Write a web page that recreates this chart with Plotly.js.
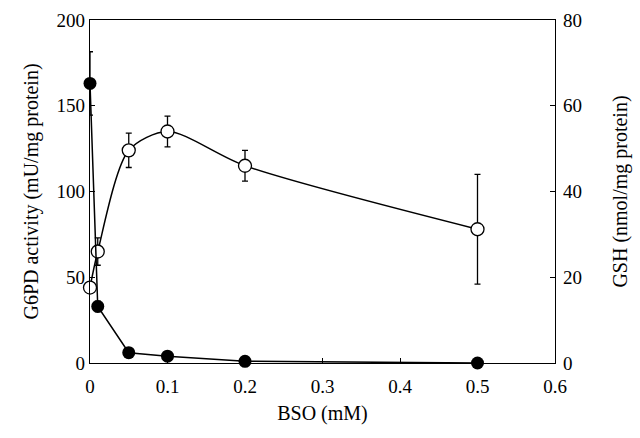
<!DOCTYPE html>
<html>
<head>
<meta charset="utf-8">
<script src="https://cdn.plot.ly/plotly-3.0.1.min.js"></script>
<style>
  body { margin: 0; background: #fff; }
  #graph { width: 640px; height: 438px; }
</style>
</head>
<body>
<div id="graph"></div>
<script>
// BSO concentrations (mM)
var bso = [0, 0.01, 0.05, 0.1, 0.2, 0.5];

// G6PD activity (mU/mg protein), open circles, left axis
var g6pd = [44, 65, 124, 135, 115, 78];
var g6pdErr = [3, 8, 10, 9, 9, 32];

// GSH (nmol/mg protein), filled circles, right axis
var gsh = [65.2, 13.2, 2.4, 1.6, 0.4, 0];
var gshErr = [7.4, 1.2, 0.8, 0.8, 0.3, 0.2];

var serif = 'Liberation Serif, Times New Roman, serif';

var data = [
    {
        x: bso, y: gsh, yaxis: 'y2', name: 'GSH',
        mode: 'lines+markers', cliponaxis: false,
        line: { color: '#000', width: 1.5 },
        marker: { symbol: 'circle', size: 13, color: '#000' },
        error_y: { type: 'data', array: gshErr, color: '#000', thickness: 1.3, width: 3 }
    },
    {
        x: bso, y: g6pd, name: 'G6PD',
        mode: 'lines+markers', cliponaxis: false,
        line: { color: '#000', width: 1.5, shape: 'spline', smoothing: 0.8 },
        marker: { symbol: 'circle', size: 13, color: '#fff', line: { color: '#000', width: 1.3 } },
        error_y: { type: 'data', array: g6pdErr, color: '#000', thickness: 1.3, width: 3 }
    }
];

var layout = {
    width: 640, height: 438,
    margin: { l: 90, r: 85, t: 20, b: 75 },
    paper_bgcolor: '#fff', plot_bgcolor: '#fff',
    showlegend: false,
    font: { family: serif, size: 19, color: '#000' },
    xaxis: {
        range: [0, 0.6], dtick: 0.1, tickformat: '.1~f',
        ticks: 'inside', ticklen: 5, tickcolor: '#000', ticklabelstandoff: 6,
        showline: true, linecolor: '#000', linewidth: 1.3, mirror: true,
        showgrid: false, zeroline: false,
        title: { text: 'BSO (mM)', standoff: 10, font: { size: 20 } }
    },
    yaxis: {
        range: [0, 200], dtick: 50,
        ticks: 'inside', ticklen: 5, tickcolor: '#000',
        showline: true, linecolor: '#000', linewidth: 1.3,
        showgrid: false, zeroline: false,
        title: { text: 'G6PD activity (mU/mg protein)', standoff: 12, font: { size: 20 } }
    },
    yaxis2: {
        range: [0, 80], dtick: 20, overlaying: 'y', side: 'right',
        ticks: 'inside', ticklen: 5, tickcolor: '#000', ticklabelstandoff: 3,
        showline: true, linecolor: '#000', linewidth: 1.3,
        showgrid: false, zeroline: false,
        title: { text: 'GSH (nmol/mg protein)', standoff: 32, font: { size: 20 } }
    }
};

Plotly.newPlot('graph', data, layout, { displayModeBar: false });
</script>
</body>
</html>
